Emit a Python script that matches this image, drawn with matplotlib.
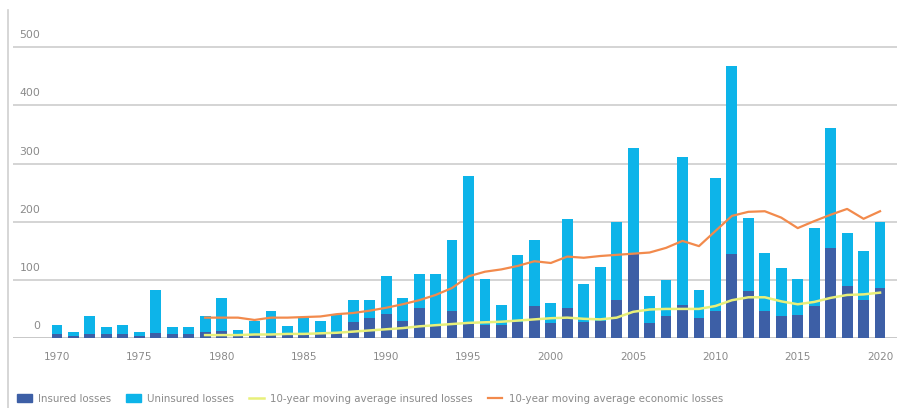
import matplotlib
matplotlib.use("Agg")
import matplotlib.pyplot as plt
from matplotlib.lines import Line2D
from matplotlib.patches import Patch
import numpy as np

# annual losses, USD bn
years = list(range(1970, 2021))
insured = [6, 4, 6, 7, 6, 4, 8, 6, 6, 10,
           12, 4, 6, 7, 6, 7, 6, 10, 28, 35,
           41, 29, 52, 20, 46, 25, 23, 22, 28, 55,
           26, 52, 28, 29, 66, 144, 26, 37, 57, 35,
           47, 145, 80, 46, 37, 40, 55, 155, 89, 65,
           86]
uninsured = [16, 7, 31, 12, 17, 6, 74, 13, 13, 27,
             56, 10, 23, 39, 15, 29, 24, 31, 37, 30,
             65, 40, 58, 90, 122, 253, 78, 35, 115, 113,
             35, 153, 64, 93, 134, 182, 47, 62, 255, 47,
             229, 322, 127, 101, 84, 61, 134, 207, 92, 84,
             114]

# 10-year moving averages, from 1979 on
ma_years = list(range(1979, 2021))
ma_insured = [5, 5, 5, 6, 6, 7, 7, 8, 9, 11,
              13, 15, 17, 20, 22, 24, 26, 27, 28, 30,
              32, 34, 35, 33, 32, 35, 45, 49, 50, 50,
              50, 55, 65, 70, 70, 63, 58, 62, 69, 74,
              75, 78]
ma_economic = [35, 35, 35, 31, 35, 35, 36, 37, 41, 43,
               47, 52, 58, 65, 74, 86, 106, 114, 118, 124,
               132, 129, 140, 138, 141, 143, 145, 147, 155, 167,
               158, 184, 210, 217, 218, 207, 189, 201, 212, 222,
               205, 218]

yticks = [0, 100, 200, 300, 400, 500]
xticks = [1970, 1975, 1980, 1985, 1990, 1995, 2000, 2005, 2010, 2015, 2020]

c_ins = "#3d5fa6"
c_unins = "#0db4e9"
c_ma_ins = "#e8f07a"
c_ma_eco = "#f28a4c"
c_grid = "#d4d4d4"
c_text = "#8a8a8a"

fig = plt.figure(figsize=(8.97, 4.08), dpi=100)
ax = fig.add_axes([0.0145, 0.1716, 0.9855, 0.741])

ax.bar(years, insured, width=0.66, color=c_ins, zorder=3)
ax.bar(years, uninsured, width=0.66, bottom=insured, color=c_unins, zorder=3)
ax.plot(ma_years, ma_insured, color=c_ma_ins, lw=1.8, zorder=4)
ax.plot(ma_years, ma_economic, color=c_ma_eco, lw=1.6, zorder=4)

ax.set_xlim(1967.33, 2021.03)
ax.set_ylim(0, 520)

for v in yticks:
    ax.axhline(v, color="#c8c8c8" if v == 0 else c_grid, lw=1.4, zorder=1)
    ax.annotate(str(v), xy=(0.031, v), xycoords=("axes fraction", "data"),
                xytext=(0, 5), textcoords="offset points",
                ha="right", va="bottom", fontsize=7.8, color=c_text)

ax.set_yticks([])
ax.set_xticks(xticks)
ax.set_xticklabels([str(x) for x in xticks], fontsize=7.5, color=c_text)
ax.tick_params(axis="x", length=0, pad=10)
for s in ax.spines.values():
    s.set_visible(False)

# thin rule down the left edge
fig.add_artist(Line2D([0.009, 0.009], [0.0, 0.975], transform=fig.transFigure,
                      color="#d0d0d0", lw=1.2))

handles = [Patch(color=c_ins), Patch(color=c_unins),
           Line2D([], [], color=c_ma_ins, lw=1.8),
           Line2D([], [], color=c_ma_eco, lw=1.6)]
labels = ["Insured losses", "Uninsured losses",
          "10-year moving average insured losses",
          "10-year moving average economic losses"]
fig.legend(handles, labels, loc="lower left", bbox_to_anchor=(0.009, -0.012),
           ncol=4, frameon=False, fontsize=7.4, labelcolor=c_text,
           handlelength=1.4, handleheight=0.9, handletextpad=0.6,
           columnspacing=1.5)

fig.savefig("out.png", dpi=100)
